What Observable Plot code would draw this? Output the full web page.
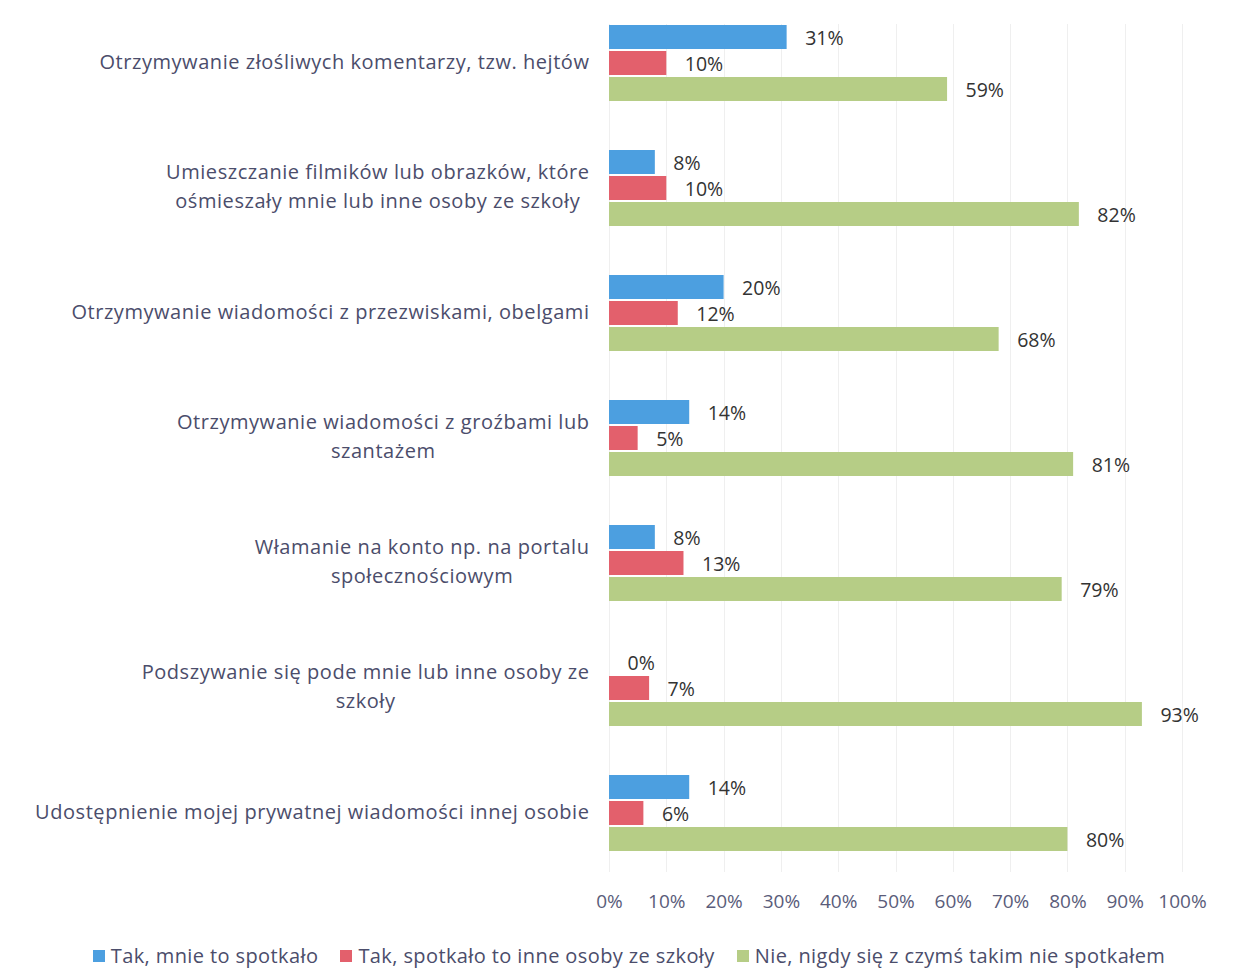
<!DOCTYPE html>
<html>
<head>
<meta charset="utf-8">
<script src="https://cdn.jsdelivr.net/npm/d3@7"></script>
<script src="https://cdn.jsdelivr.net/npm/@observablehq/plot@0.6"></script>
<style>
  body { margin: 0; background: #fff; font-family: "Open Sans", sans-serif; }
  #legend { display: flex; justify-content: center; gap: 22px; font-size: 20px; letter-spacing: 0.4px; color: #4b4d6b; margin-top: 12px; margin-left: 16px; }
  #legend span.sw { display: inline-block; width: 12px; height: 12px; margin-right: 6px; vertical-align: middle; position: relative; top: -2px; }
</style>
</head>
<body>
<div id="chart"></div>
<script>
const categories = [
  "Otrzymywanie złośliwych komentarzy, tzw. hejtów",
  "Umieszczanie filmików lub obrazków, które\nośmieszały mnie lub inne osoby ze szkoły",
  "Otrzymywanie wiadomości z przezwiskami, obelgami",
  "Otrzymywanie wiadomości z groźbami lub\nszantażem",
  "Włamanie na konto np. na portalu\nspołecznościowym",
  "Podszywanie się pode mnie lub inne osoby ze\nszkoły",
  "Udostępnienie mojej prywatnej wiadomości innej osobie"
];
const series = [
  "Tak, mnie to spotkało",
  "Tak, spotkało to inne osoby ze szkoły",
  "Nie, nigdy się z czymś takim nie spotkałem"
];
const colors = ["#4c9fe0", "#e3606c", "#b6cd86"];
const valuesMe = [31, 8, 20, 14, 8, 0, 14];
const valuesOthers = [10, 10, 12, 5, 13, 7, 6];
const valuesNever = [59, 82, 68, 81, 79, 93, 80];
const xTicks = [0, 10, 20, 30, 40, 50, 60, 70, 80, 90, 100];

const allValues = [valuesMe, valuesOthers, valuesNever];
const data = [];
categories.forEach((c, i) => {
  series.forEach((s, j) => data.push({category: c, series: s, value: allValues[j][i] / 100}));
});

// faint full-height gridlines, positioned with Plot's x scale
const gridMark = Plot.frame({
  facet: "super",
  render: (index, scales, values, dims) => {
    const g = d3.create("svg:g").attr("stroke", "#efefef").attr("stroke-width", 1);
    xTicks.forEach(t => {
      const x = Math.round(scales.x(t / 100)) + 0.5;
      g.append("line").attr("x1", x).attr("x2", x)
        .attr("y1", dims.marginTop).attr("y2", dims.height - dims.marginBottom + 20);
    });
    return g.node();
  }
});

const chart = Plot.plot({
  width: 1242,
  height: 930,
  marginLeft: 609,
  marginRight: 60,
  marginTop: 0,
  marginBottom: 54,
  style: {fontFamily: "Open Sans, sans-serif", fontSize: "19px"},
  x: {domain: [0, 1], axis: null},
  y: {domain: series, axis: null, paddingInner: 0.06, paddingOuter: 0},
  fy: {domain: categories, paddingInner: 0.38, paddingOuter: 0.19, label: null},
  color: {domain: series, range: colors},
  marks: [
    gridMark,
    Plot.axisFy({anchor: "left", tickSize: 0, tickPadding: 20, label: null, fontSize: 20, fill: "#4b4d6b", lineHeight: 1.45, dy: -4}),
    Plot.axisX({ticks: xTicks.map(d => d / 100), tickFormat: d => Math.round(d * 100) + "%", tickSize: 0, tickPadding: 42, fill: "#5a5c7a", fontSize: 19, label: null}),
    Plot.barX(data, {x: "value", y: "series", fy: "category", fill: "series"}),
    Plot.text(data, {x: "value", y: "series", fy: "category", text: d => Math.round(d.value * 100) + "%", textAnchor: "start", dx: 18, dy: 1, fill: "#333", fontSize: 19.5})
  ]
});
document.getElementById("chart").appendChild(chart);

const fyAxis = chart.querySelector("[aria-label='fy-axis tick label']");
if (fyAxis) fyAxis.setAttribute("letter-spacing", "0.55px");

// center the wrapped lines of multi-line category labels (as in the original)
chart.querySelectorAll("text").forEach(t => {
  const spans = t.querySelectorAll("tspan");
  if (spans.length > 1 && t.closest("[aria-label='fy-axis tick label']")) {
    let maxW = 0;
    spans.forEach(s => { maxW = Math.max(maxW, s.getComputedTextLength()); });
    spans.forEach(s => s.setAttribute("x", (+s.getAttribute("x") || 0) - maxW / 2));
    t.setAttribute("text-anchor", "middle");
  }
});

const legend = document.createElement("div");
legend.id = "legend";
series.forEach((s, j) => {
  const item = document.createElement("div");
  item.innerHTML = `<span class="sw" style="background:${colors[j]}"></span>${s}`;
  legend.appendChild(item);
});
document.body.appendChild(legend);
</script>
</body>
</html>
